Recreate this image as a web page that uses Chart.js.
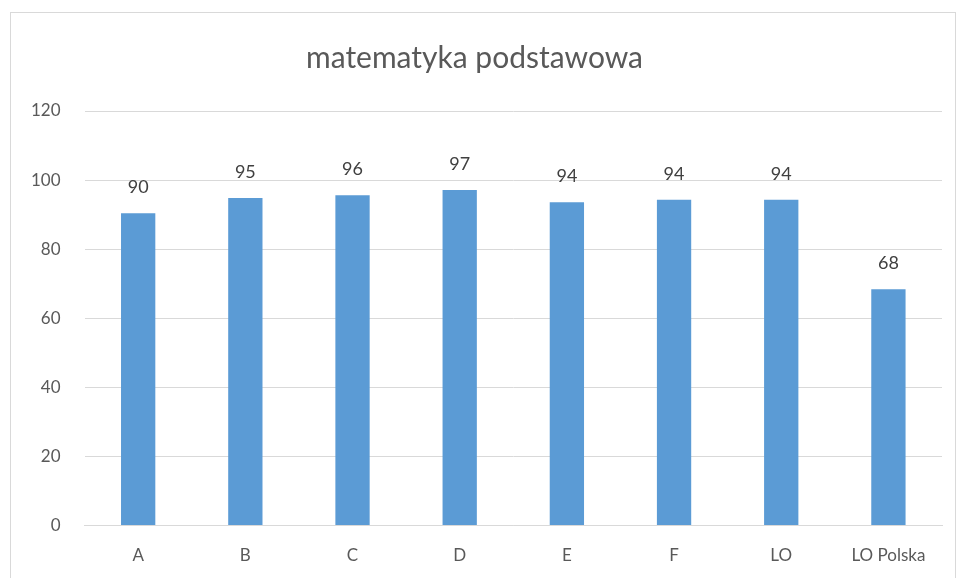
<!DOCTYPE html>
<html>
<head>
<meta charset="utf-8">
<script src="https://cdn.jsdelivr.net/npm/chart.js@4"></script>
<style>
  body { margin: 0; background: #fff; }
  #frame { position: absolute; left: 10px; top: 12px; width: 946px; height: 580px; border: 1px solid #d9d9d9; box-sizing: border-box; }
  #wrap { position: absolute; left: 0; top: 0; width: 958px; height: 578px; }
</style>
</head>
<body>
<div id="frame"></div>
<div id="wrap"><canvas id="myChart" width="958" height="578"></canvas></div>
<script>
let categories = ["A", "B", "C", "D", "E", "F", "LO", "LO Polska"];
let wyniki = [90.4, 94.8, 95.6, 97.1, 93.6, 94.3, 94.3, 68.4];
let yTicks = [0, 20, 40, 60, 80, 100, 120];

let fontName = "Lato, 'Open Sans', sans-serif";

// draws the rounded value above each bar
let valueLabels = {
    id: "valueLabels",
    afterDatasetsDraw(chart) {
        let ctx = chart.ctx;
        let meta = chart.getDatasetMeta(0);
        ctx.save();
        ctx.fillStyle = "#404040";
        ctx.font = "18px " + fontName;
        ctx.textAlign = "center";
        ctx.textBaseline = "bottom";
        meta.data.forEach(function(bar, i) {
            ctx.fillText(Math.round(wyniki[i]), bar.x, bar.y - 17);
        });
        ctx.restore();
    }
};

let ctx = document.getElementById("myChart").getContext("2d");
let chart = new Chart(ctx, {
    type: "bar",
    data: {
        labels: categories,
        datasets: [{
            label: "matematyka podstawowa",
            data: wyniki,
            backgroundColor: "#5b9bd5",
            borderWidth: 0,
            categoryPercentage: 1,
            barPercentage: 0.32
        }]
    },
    options: {
        responsive: false,
        animation: false,
        layout: { padding: { left: 7, right: 16, top: 40, bottom: 0 } },
        plugins: {
            legend: { display: false },
            tooltip: { enabled: false },
            title: {
                display: true,
                text: "matematyka podstawowa",
                color: "#595959",
                font: { family: fontName, size: 30, weight: "normal" },
                padding: { top: 0, bottom: 35 }
            }
        },
        scales: {
            x: {
                grid: { display: false },
                border: { color: "#d9d9d9" },
                ticks: { color: "#595959", font: { family: fontName, size: 17 }, padding: 12, maxRotation: 0 }
            },
            y: {
                min: 0,
                max: 120,
                afterBuildTicks: function(axis) {
                    axis.ticks = yTicks.map(function(v) { return { value: v }; });
                },
                grid: { color: "#d9d9d9", drawTicks: false },
                border: { display: false },
                ticks: { color: "#595959", font: { family: fontName, size: 17 }, padding: 24 }
            }
        }
    },
    plugins: [valueLabels]
});
</script>
</body>
</html>
